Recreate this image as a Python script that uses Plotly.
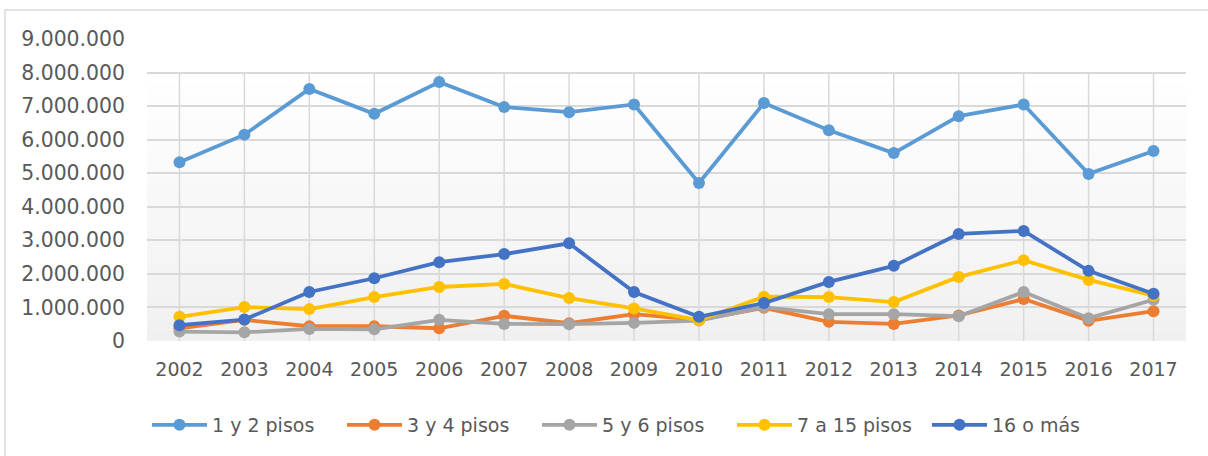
import plotly.graph_objects as go

years = [str(y) for y in range(2002, 2018)]
names = ["1 y 2 pisos", "3 y 4 pisos", "5 y 6 pisos", "7 a 15 pisos", "16 o más"]
colors = ["#5B9BD5", "#ED7D31", "#A5A5A5", "#FFC000", "#4472C4"]

pisos_1_2 = [5330000, 6150000, 7510000, 6770000, 7720000, 6970000, 6820000, 7050000,
             4710000, 7090000, 6280000, 5600000, 6700000, 7050000, 4980000, 5660000]
pisos_3_4 = [380000, 630000, 440000, 440000, 380000, 750000, 530000, 800000,
             630000, 990000, 570000, 510000, 760000, 1250000, 600000, 890000]
pisos_5_6 = [280000, 260000, 360000, 350000, 630000, 510000, 500000, 540000,
             610000, 1010000, 800000, 800000, 740000, 1460000, 680000, 1230000]
pisos_7_15 = [720000, 1010000, 950000, 1310000, 1610000, 1700000, 1280000, 970000,
              620000, 1320000, 1310000, 1160000, 1910000, 2410000, 1820000, 1350000]
pisos_16 = [470000, 640000, 1460000, 1870000, 2350000, 2590000, 2910000, 1460000,
            720000, 1130000, 1760000, 2240000, 3190000, 3280000, 2090000, 1410000]

series = [pisos_1_2, pisos_3_4, pisos_5_6, pisos_7_15, pisos_16]
y_ticks = list(range(0, 9000001, 1000000))

fig = go.Figure()
for name, col, vals in zip(names, colors, series):
    fig.add_trace(go.Scatter(x=years, y=vals, name=name, mode="lines+markers",
                             line=dict(color=col, width=3.8),
                             marker=dict(color=col, size=12)))

# gradient background 0 - 8M
n = 24
top_c, bot_c = (255, 255, 255), (240, 240, 240)
for i in range(n):
    t = (i + 0.5) / n
    c = tuple(int(round(top_c[k] + (bot_c[k] - top_c[k]) * t)) for k in range(3))
    y1 = 8000000 * (1 - i / n)
    y0 = 8000000 * (1 - (i + 1) / n)
    fig.add_shape(type="rect", xref="paper", yref="y", x0=0, x1=1, y0=y0, y1=y1,
                  fillcolor="rgb(%d,%d,%d)" % c, line_width=0, layer="below")

# vertical gridlines from 0 to 8M (category index positions)
for i, yr in enumerate(years):
    fig.add_shape(type="line", xref="x", yref="y", x0=i, x1=i, y0=0, y1=8000000,
                  line=dict(color="#d9d9d9", width=1.5), layer="below")

# outer border (right and bottom edges fall outside the picture)
L, R, T, B = 147, 22, 39, 115
W = 1208 - L - R
H = 456 - T - B
fig.add_shape(type="rect", xref="paper", yref="paper",
              x0=(5 - L) / W, x1=(1212 - L) / W,
              y0=(341 - 460) / H, y1=(341 - 10) / H,
              line=dict(color="#d9d9d9", width=1.5), fillcolor="rgba(0,0,0,0)")

fig.update_layout(
    width=1208, height=456,
    margin=dict(l=L, r=R, t=T, b=B),
    paper_bgcolor="white", plot_bgcolor="rgba(0,0,0,0)",
    separators=",.",
    font=dict(family="DejaVu Sans", size=20, color="#595959"),
    showlegend=True,
    legend=dict(orientation="h", x=0.0, xanchor="left", y=(341 - 425) / H, yanchor="middle",
                font=dict(size=19, color="#595959"), itemwidth=55,
                entrywidth=125, entrywidthmode="pixels", bgcolor="rgba(0,0,0,0)"),
    xaxis=dict(type="category", range=[-0.5, 15.5], showgrid=False, showline=False,
               zeroline=False, ticks="", tickfont=dict(size=19, color="#595959"),
               ticklabelstandoff=15),
    yaxis=dict(range=[0, 9000000], tickvals=y_ticks, tickformat=",d",
               showgrid=True, gridcolor="#d9d9d9", gridwidth=1.5, zeroline=False,
               showline=False, ticks="", ticklabelstandoff=21,
               tickfont=dict(size=20.4, color="#595959")),
)

fig.write_html("out.html", config={"displayModeBar": False},
               post_script="document.body.style.margin='0';")
